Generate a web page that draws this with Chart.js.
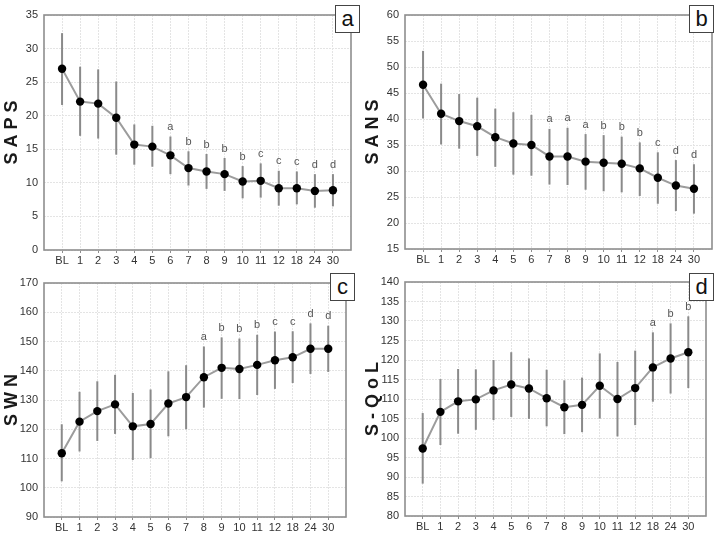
<!DOCTYPE html>
<html><head><meta charset="utf-8">
<script src="https://cdn.jsdelivr.net/npm/chart.js@4.4.0/dist/chart.umd.min.js"></script>
<style>
html,body{margin:0;padding:0;background:#fff;}
#wrap{position:relative;width:722px;height:536px;overflow:hidden;background:#fff;}
.pane{position:absolute;width:361px;height:268px;}
.lbl{position:absolute;width:23px;height:26px;border:1px solid #444;background:#fff;font:22px "Liberation Sans",Arial,sans-serif;color:#111;text-align:center;line-height:25px;}
</style></head><body>
<div id="wrap">
<div class="pane" style="left:0;top:0"><canvas id="ca" width="361" height="268"></canvas></div>
<div class="pane" style="left:361px;top:0"><canvas id="cb" width="361" height="268"></canvas></div>
<div class="pane" style="left:0;top:268px"><canvas id="cc" width="361" height="268"></canvas></div>
<div class="pane" style="left:361px;top:268px"><canvas id="cd" width="361" height="268"></canvas></div>
<div class="lbl" style="left:335px;top:5px">a</div>
<div class="lbl" style="left:689px;top:5px">b</div>
<div class="lbl" style="left:330px;top:273px">c</div>
<div class="lbl" style="left:689px;top:273px">d</div>
</div>
<script>
const categories = ['BL','1','2','3','4','5','6','7','8','9','10','11','12','18','24','30'];

const sapsMean  = [27.0,22.1,21.8,19.7,15.7,15.4,14.1,12.2,11.7,11.3,10.2,10.3,9.2,9.2,8.8,8.9];
const sapsUpper = [32.3,27.3,26.9,25.1,18.7,18.5,16.9,14.7,14.3,13.7,12.5,12.9,11.8,11.7,11.3,11.3];
const sapsLower = [21.6,17.0,16.6,14.2,12.7,12.4,11.3,9.6,9.1,8.8,7.7,7.8,6.6,6.8,6.3,6.5];
const sapsLetters = ['','','','','','','a','b','b','b','b','c','c','c','d','d'];

const sansMean  = [46.6,41.0,39.6,38.6,36.5,35.3,35.0,32.8,32.8,31.8,31.6,31.4,30.5,28.7,27.2,26.6];
const sansUpper = [53.1,46.8,44.8,44.1,42.0,41.3,40.8,38.1,38.3,37.1,36.9,36.6,35.5,33.6,32.1,31.3];
const sansLower = [40.1,35.1,34.3,32.9,30.8,29.3,29.1,27.4,27.3,26.4,26.1,25.9,25.2,23.7,22.3,21.8];
const sansLetters = ['','','','','','','','a','a','a','b','b','b','c','d','d'];

const swnMean  = [111.8,122.6,126.2,128.5,121.0,121.8,128.8,131.0,137.8,141.0,140.6,142.0,143.6,144.6,147.5,147.5];
const swnUpper = [121.7,132.8,136.4,138.6,132.4,133.6,139.8,141.9,148.3,151.4,151.0,152.3,153.4,153.5,156.2,155.4];
const swnLower = [102.2,112.4,116.0,118.4,109.5,110.1,117.6,120.0,127.4,130.4,130.3,131.7,133.8,135.8,138.9,139.6];
const swnLetters = ['','','','','','','','','a','b','b','b','c','c','d','d'];

const sqolMean  = [97.3,106.7,109.4,109.9,112.2,113.7,112.7,110.2,107.9,108.5,113.4,110.0,112.8,118.1,120.4,122.0];
const sqolUpper = [106.4,115.1,117.7,117.6,120.0,122.0,120.4,117.5,114.8,115.5,121.7,119.5,122.4,127.1,129.4,131.2];
const sqolLower = [88.3,98.2,101.1,102.1,104.6,105.4,104.9,103.0,101.0,101.5,105.0,100.4,103.3,109.3,111.4,112.8];
const sqolLetters = ['','','','','','','','','','','','','','a','b','b'];

const FAM = '"Liberation Sans", Arial, sans-serif';
Chart.defaults.font.family = FAM;

function makePanel(id, cfg) {
  const plug = {
    id: 'errbars_' + id,
    beforeDatasetsDraw(chart) {
      const {ctx, chartArea: a, scales: {x, y}} = chart;
      ctx.save();
      ctx.strokeStyle = '#8e8e8e';
      ctx.lineWidth = 1.6;
      ctx.strokeRect(a.left, a.top, a.right - a.left, a.bottom - a.top);
      ctx.strokeStyle = '#8a8a8a';
      ctx.lineWidth = 2;
      cfg.upper.forEach((u, i) => {
        const px = x.getPixelForValue(i);
        ctx.beginPath();
        ctx.moveTo(px, y.getPixelForValue(cfg.lower[i]));
        ctx.lineTo(px, y.getPixelForValue(u));
        ctx.stroke();
      });
      ctx.restore();
    },
    afterDatasetsDraw(chart) {
      const {ctx, scales: {x, y}} = chart;
      ctx.save();
      ctx.fillStyle = '#555';
      ctx.font = '11px ' + FAM;
      ctx.textAlign = 'center';
      ctx.textBaseline = 'bottom';
      cfg.letters.forEach((t, i) => {
        if (!t) return;
        ctx.fillText(t, x.getPixelForValue(i), y.getPixelForValue(cfg.upper[i]) - 4);
      });
      ctx.restore();
    }
  };
  new Chart(document.getElementById(id), {
    type: 'line',
    data: {
      datasets: [{
        data: cfg.mean.map((v, i) => ({x: i, y: v})),
        borderColor: '#9c9c9c',
        borderWidth: 2,
        pointRadius: 4.2,
        pointBackgroundColor: '#000',
        pointBorderColor: '#000',
        pointBorderWidth: 0,
        tension: 0
      }]
    },
    options: {
      responsive: false,
      animation: false,
      layout: {padding: {top: cfg.top, right: cfg.right, left: 0, bottom: 0}},
      plugins: {legend: {display: false}, tooltip: {enabled: false}},
      scales: {
        x: {
          type: 'linear', min: -1, max: 16,
          afterBuildTicks: s => { s.ticks = categories.map((c, i) => ({value: i})); },
          ticks: {autoSkip: false, maxRotation: 0, padding: 1, color: '#333', font: {size: 11},
            callback: v => categories[v] !== undefined ? categories[v] : ''},
          grid: {color: '#e4e4e4', tickColor: '#8e8e8e', tickLength: 3, lineWidth: 1},
          border: {display: false, dash: [2, 1]},
          afterFit: s => { s.height = cfg.xh; }
        },
        y: {
          min: cfg.min, max: cfg.max,
          ticks: {stepSize: cfg.step, padding: 6, color: '#333', font: {size: 11}},
          grid: {color: '#e4e4e4', drawTicks: false, lineWidth: 1},
          border: {display: false, dash: [2, 1]},
          title: {display: true, text: cfg.title, color: '#1a1a1a', font: {size: 18, weight: 'bold'}, padding: {top: 1, bottom: 0}},
          afterFit: s => { s.width = 44; }
        }
      }
    },
    plugins: [plug]
  });
}

makePanel('ca', {mean: sapsMean, upper: sapsUpper, lower: sapsLower, letters: sapsLetters, min: 0, max: 35, step: 5, title: 'S A P S', top: 15, right: 10, xh: 18});
makePanel('cb', {mean: sansMean, upper: sansUpper, lower: sansLower, letters: sansLetters, min: 15, max: 60, step: 5, title: 'S A N S', top: 15, right: 10, xh: 19});
makePanel('cc', {mean: swnMean, upper: swnUpper, lower: swnLower, letters: swnLetters, min: 90, max: 170, step: 10, title: 'S W N', top: 15, right: 15, xh: 19});
makePanel('cd', {mean: sqolMean, upper: sqolUpper, lower: sqolLower, letters: sqolLetters, min: 80, max: 140, step: 5, title: 'S - Q o L', top: 14, right: 16, xh: 20});
</script>
</body></html>
